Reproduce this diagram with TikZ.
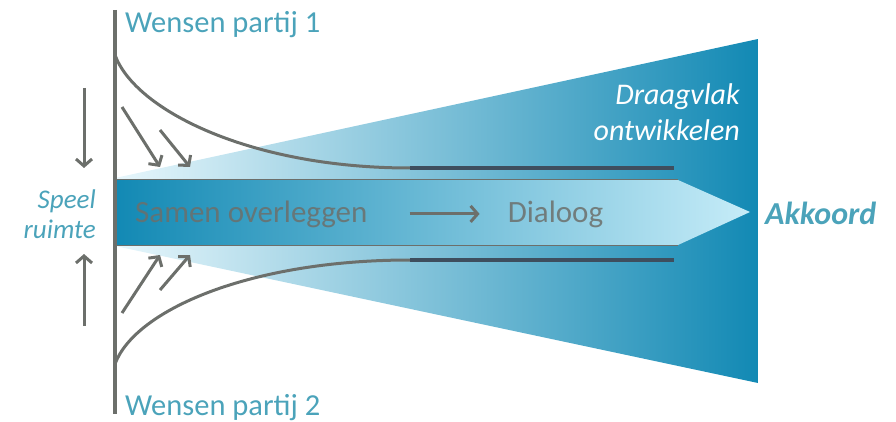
\documentclass[tikz,border=0pt]{standalone}
\usepackage{fontspec}
\setmainfont{Carlito}
\usepackage{xcolor}
\usepackage{tikz}
\usetikzlibrary{arrows.meta, positioning}
\definecolor{tealtext}{RGB}{75,163,186}
\definecolor{deepblue}{RGB}{18,137,180}
\definecolor{paleblue}{RGB}{198,236,248}
\definecolor{palefunnel}{RGB}{232,247,252}
\definecolor{linegray}{RGB}{108,111,107}
\definecolor{slate}{RGB}{62,78,94}
\tikzstyle{wens}   = [text=tealtext, font=\fontsize{30.5}{35}\selectfont, inner sep=0pt, anchor=base west]
\tikzstyle{side}   = [text=tealtext, font=\itshape\fontsize{27}{30}\selectfont, inner sep=0pt, align=right, anchor=east]
\tikzstyle{stage}  = [text=linegray, text opacity=0.85, font=\fontsize{31}{36}\selectfont, inner sep=0pt]
\tikzstyle{goal}   = [text=tealtext, font=\bfseries\itshape\fontsize{32}{36}\selectfont, inner sep=0pt, anchor=base west]
\tikzstyle{curve}  = [line width=3pt, linegray]
\tikzstyle{rail}   = [line width=3.2pt, slate]
\tikzstyle{arrow}  = [line width=3pt, linegray, -{Straight Barb[length=7pt,width=16pt]}]

\begin{document}
\begin{tikzpicture}[x=1pt, y=-1pt]
    \useasboundingbox (0,0) rectangle (896,422);

    % funnel and band
    \shade[left color=palefunnel, right color=deepblue]
        (115,178) -- (758,39) -- (758,383) -- (115,246) -- cycle;
    \shade[left color=deepblue, right color=paleblue]
        (115,180) -- (678,180) -- (750,212) -- (678,245) -- (115,245) -- cycle;
    \draw[linegray, line width=1pt] (115,180) -- (678,180);
    \draw[linegray, line width=1pt] (115,245) -- (678,245);

    \coordinate (axistop)  at (115,10);
    \coordinate (axisbot)  at (115,414);
    \coordinate (wish1)    at (115,55);
    \coordinate (wish2)    at (115,364);
    \coordinate (rail1l)   at (410,168);
    \coordinate (rail1r)   at (674,168);
    \coordinate (rail2l)   at (410,260);
    \coordinate (rail2r)   at (674,260);

    \node (w1)      [wens]  at (125,33)  {Wensen partij 1};
    \node (w2)      [wens]  at (125,415) {Wensen partij 2};
    \node (speel)   [side]  at (96,214)  {Speel\\ruimte};
    \node (samen)   [stage, anchor=base west] at (135,222) {Samen overleggen};
    \node (dialoog) [stage, right=140pt of samen] {Dialoog};
    \node (draag)   [text=white, font=\itshape\fontsize{30}{36}\selectfont, inner sep=0pt,
                     align=right, anchor=east] at (740,112) {Draagvlak\\ontwikkelen};
    \node (akkoord) [goal]  at (765,224) {Akkoord};

    \draw [curve, line width=3.4pt] (axistop) -- (axisbot);
    \draw [curve] (wish1) .. controls (135,110) and (250,168) .. (rail1l);
    \draw [curve] (wish2) .. controls (135,310) and (250,260) .. (rail2l);
    \draw [rail]  (rail1l) -- (rail1r);
    \draw [rail]  (rail2l) -- (rail2r);

    % pressure arrows
    \coordinate (d1s) at (122,107);  \coordinate (d1e) at (160,167);
    \coordinate (d2s) at (160,130);  \coordinate (d2e) at (190,167);
    \coordinate (u1s) at (122,313);  \coordinate (u1e) at (160,255);
    \coordinate (u2s) at (160,290);  \coordinate (u2e) at (190,255);
    \coordinate (sts) at (84,88);    \coordinate (ste) at (84,168);
    \coordinate (sbs) at (84,326);   \coordinate (sbe) at (84,254);
    \draw [arrow] (d1s) -- (d1e);
    \draw [arrow] (d2s) -- (d2e);
    \draw [arrow] (u1s) -- (u1e);
    \draw [arrow] (u2s) -- (u2e);
    \draw [arrow] (sts) -- (ste);
    \draw [arrow] (sbs) -- (sbe);
    \draw [arrow, shorten <=42pt, shorten >=28pt] (samen) -- (dialoog);
\end{tikzpicture}
\end{document}
